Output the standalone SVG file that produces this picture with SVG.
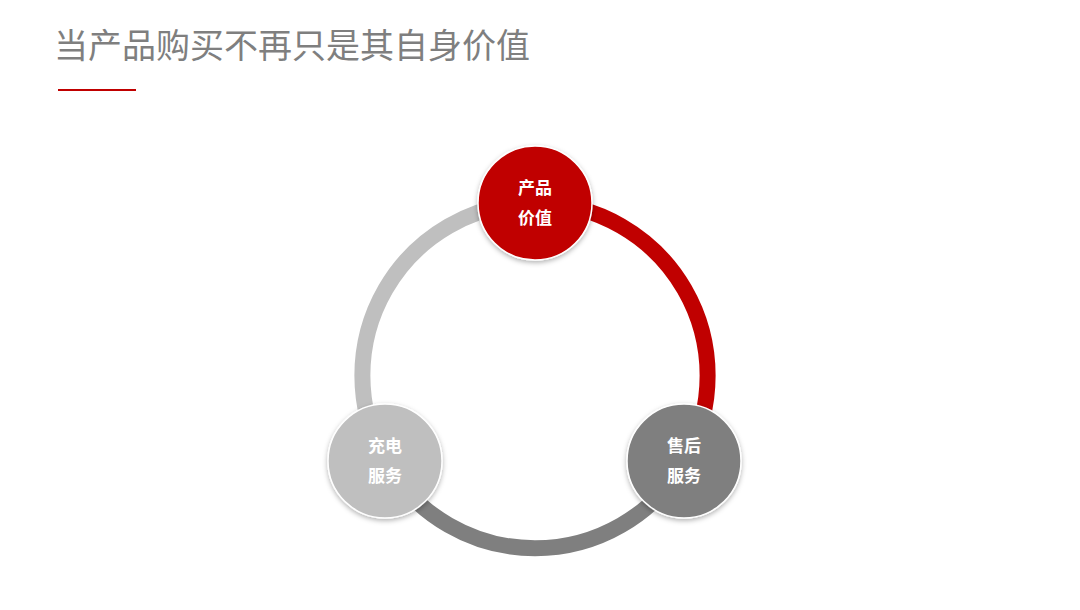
<svg xmlns="http://www.w3.org/2000/svg" width="1080" height="610" viewBox="0 0 1080 610">
<style>
.t{font-family:"Noto Sans CJK SC","Noto Sans",sans-serif;fill:#7f7f7f;font-size:34px}
.n{font-family:"Noto Sans CJK SC","Noto Sans",sans-serif;fill:#fff;font-size:17px;font-weight:bold;text-anchor:middle}
.arc{fill:none;stroke-width:16}
</style>
<defs><filter id="sh" x="-20%" y="-20%" width="140%" height="140%"><feDropShadow dx="0" dy="2" stdDeviation="2.5" flood-color="#000" flood-opacity="0.3"/></filter></defs>
<rect width="1080" height="610" fill="#fff"/>
<text class="t" x="54" y="58">当产品购买不再只是其自身价值</text>
<line x1="58" y1="90" x2="136" y2="90" stroke="#c00000" stroke-width="2"/>
<g id="connectors">
<path class="arc" stroke="#c00000" d="M535,203 A172.6,172.6 0 0 1 684.5,461.9"/>
<path class="arc" stroke="#7f7f7f" d="M684.5,461.9 A172.6,172.6 0 0 1 385.5,461.9"/>
<path class="arc" stroke="#bfbfbf" d="M385.5,461.9 A172.6,172.6 0 0 1 535,203"/>
</g>
<g id="node-product"><circle cx="535" cy="203" r="57" fill="#c00000" stroke="#fff" stroke-width="1.5" filter="url(#sh)"/><text class="n" x="535" y="194">产品</text><text class="n" x="535" y="224">价值</text></g>
<g id="node-charge"><circle cx="385" cy="461" r="57" fill="#bfbfbf" stroke="#fff" stroke-width="1.5" filter="url(#sh)"/><text class="n" x="385" y="452">充电</text><text class="n" x="385" y="482">服务</text></g>
<g id="node-after"><circle cx="684" cy="461" r="57" fill="#7f7f7f" stroke="#fff" stroke-width="1.5" filter="url(#sh)"/><text class="n" x="684" y="452">售后</text><text class="n" x="684" y="482">服务</text></g>
</svg>
